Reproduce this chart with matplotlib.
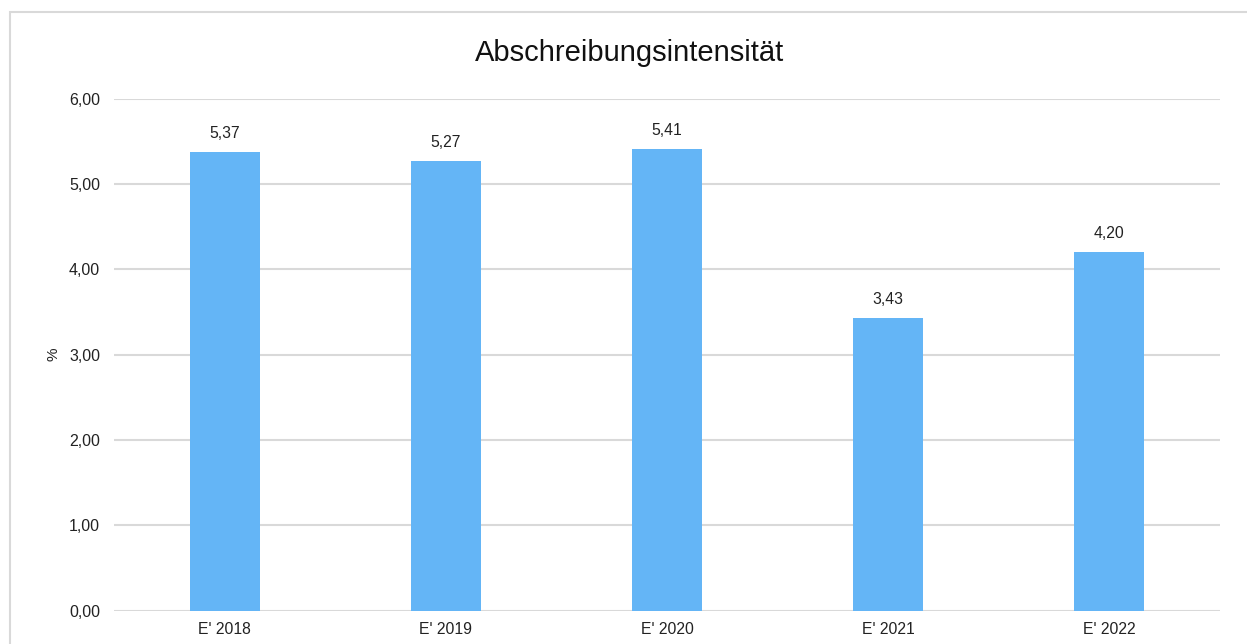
import matplotlib
matplotlib.use("Agg")
import matplotlib.pyplot as plt
from matplotlib.patches import Rectangle

categories = ["E' 2018", "E' 2019", "E' 2020", "E' 2021", "E' 2022"]
values = [5.37, 5.27, 5.41, 3.43, 4.20]
yticks = [0, 1, 2, 3, 4, 5, 6]
title = "Abschreibungsintensität"
ylabel = "%"

plt.rcParams['font.family'] = ['Liberation Sans', 'DejaVu Sans']

W, H = 1247, 644
fig = plt.figure(figsize=(W / 100, H / 100), dpi=100)
ax = fig.add_axes([114 / W, 1 - 610.7 / H, (1220 - 114) / W, (610.7 - 98.7) / H])

grid_c = '#d9d9d9'
x = range(len(categories))
ax.bar(x, values, width=0.316, color='#64B5F6', zorder=3)
ax.set_xlim(-0.5, len(categories) - 0.5)
ax.set_ylim(0, 6)
ax.set_yticks(yticks)
ax.set_yticklabels([f"{v:.2f}".replace('.', ',') for v in yticks], fontsize=11.5, color='#222222')
ax.set_xticks(list(x))
ax.set_xticklabels(categories, fontsize=11.3, color='#222222')
ax.tick_params(axis='both', length=0)
ax.tick_params(axis='y', pad=10)
ax.tick_params(axis='x', pad=8)
ax.grid(axis='y', color=grid_c, linewidth=1.5, zorder=0)
for s in ax.spines.values():
    s.set_visible(False)
ax.set_ylabel(ylabel, fontsize=11, color='#222222', labelpad=6)

for i, v in enumerate(values):
    ax.annotate(f"{v:.2f}".replace('.', ','), (i, v), xytext=(0, 8), textcoords='offset points',
                ha='center', va='bottom', fontsize=11.3, color='#222222')

fig.text(630 / W, 1 - 53 / H, title, ha='center', va='center', fontsize=21, color='#111111')

fig.patches.append(Rectangle((10 / W, -0.1), 1.2, 1 - 12 / H + 0.1, transform=fig.transFigure,
                             fill=False, edgecolor=grid_c, linewidth=1.5))

fig.savefig('out.png', dpi=100)
